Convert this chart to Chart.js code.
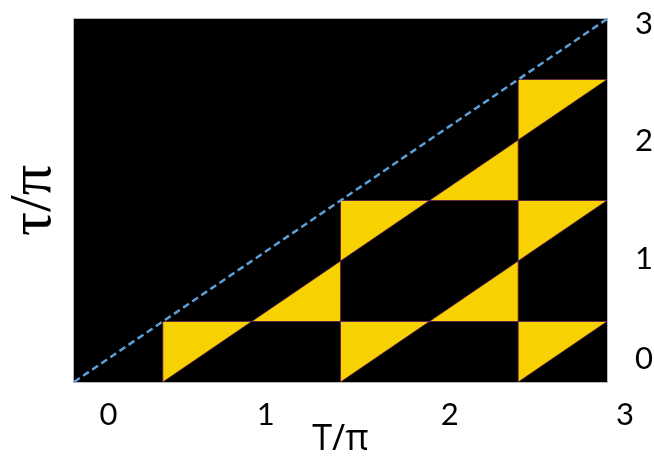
<!DOCTYPE html>
<html><head><meta charset="utf-8">
<script src="https://cdn.jsdelivr.net/npm/chart.js@4"></script>
<style>html,body{margin:0;padding:0;background:#fff;} #wrap{width:654px;height:460px;position:relative;}</style>
</head><body><div id="wrap"><canvas id="c"></canvas></div>
<script>
// Tick labels and where they sit in the reference (data units of T/π and τ/π)
const xTickValues = [0.194, 1.079, 2.115, 3.101];
const xTickLabels = ['0', '1', '2', '3'];
const yTickValues = [0.19, 1.015, 1.99, 2.96];
const yTickLabels = ['0', '1', '2', '3'];
// dashed diagonal τ = T
const diagT = [0, 3];
const diagTau = [0, 3];
// yellow triangles: vertices (T/π, τ/π)
const triT = [
  [0.5, 0.5, 1.0], [1.5, 1.5, 2.0], [2.5, 2.5, 3.0],
  [1.5, 1.5, 2.0], [2.5, 2.5, 3.0], [2.5, 2.5, 3.0],
  [1.0, 1.5, 1.5], [2.0, 2.5, 2.5], [2.0, 2.5, 2.5]
];
const triTau = [
  [0.0, 0.5, 0.5], [0.0, 0.5, 0.5], [0.0, 0.5, 0.5],
  [1.0, 1.5, 1.5], [1.0, 1.5, 1.5], [2.0, 2.5, 2.5],
  [0.5, 0.5, 1.0], [0.5, 0.5, 1.0], [1.5, 1.5, 2.0]
];

const datasets = [{
  data: diagT.map((t, i) => ({x: t, y: diagTau[i]})),
  showLine: true, fill: false,
  borderColor: '#5b9fd8', borderWidth: 2.5, borderDash: [7, 4],
  pointRadius: 0, clip: 4
}];
triT.forEach((ts, k) => {
  const pts = ts.map((t, i) => ({x: t, y: triTau[k][i]}));
  pts.push(pts[0]);
  datasets.push({
    data: pts, showLine: true, fill: 'shape',
    backgroundColor: '#f7d100', borderColor: 'rgba(90,25,80,0.8)', borderWidth: 1,
    pointRadius: 0, tension: 0
  });
});

const bgPlugin = {
  id: 'bg',
  beforeDraw(chart) {
    const {ctx, chartArea: a} = chart;
    ctx.save();
    ctx.fillStyle = '#fff';
    ctx.fillRect(0, 0, chart.width, chart.height);
    ctx.fillStyle = '#000';
    ctx.fillRect(a.left, a.top, a.right - a.left, a.bottom - a.top);
    ctx.strokeStyle = '#b8b8b8';
    ctx.lineWidth = 1;
    ctx.strokeRect(a.left - 0.5, a.top - 0.5, a.right - a.left + 1, a.bottom - a.top + 1);
    ctx.restore();
  }
};

const noPad = s => { s.paddingTop = 0; s.paddingBottom = 0; s.paddingLeft = 0; s.paddingRight = 0; };
const tickFont = {family: 'Lato, "Open Sans", sans-serif', size: 31};

new Chart(document.getElementById('c'), {
  type: 'scatter',
  data: {datasets},
  plugins: [bgPlugin],
  options: {
    responsive: true, maintainAspectRatio: false, animation: false,
    devicePixelRatio: 1,
    layout: {padding: {top: 19, left: 0, right: 0, bottom: 0}},
    plugins: {legend: {display: false}, tooltip: {enabled: false}},
    scales: {
      x: {
        type: 'linear', position: 'bottom', min: 0, max: 3,
        grid: {display: false, drawTicks: false}, border: {display: false},
        afterBuildTicks: s => { s.ticks = xTickValues.map(v => ({value: v})); },
        afterFit: s => { s.height = 78; noPad(s); },
        ticks: {
          font: tickFont, color: '#000', padding: 14, autoSkip: false, maxRotation: 0,
          callback: (v, i) => xTickLabels[i]
        },
        title: {
          display: true, text: 'T/π', color: '#000',
          font: {family: '"Open Sans", sans-serif', size: 36, lineHeight: 1},
          padding: {top: 0, bottom: 2}
        }
      },
      y: {
        type: 'linear', position: 'right', min: 0, max: 3,
        grid: {display: false, drawTicks: false}, border: {display: false},
        afterBuildTicks: s => { s.ticks = yTickValues.map(v => ({value: v})); },
        afterFit: s => { s.width = 47; noPad(s); },
        ticks: {
          font: tickFont, color: '#000', padding: 28, autoSkip: false,
          callback: (v, i) => yTickLabels[i]
        }
      },
      yL: {
        type: 'linear', position: 'left', min: 0, max: 3,
        grid: {display: false, drawTicks: false}, border: {display: false},
        ticks: {display: false},
        afterFit: s => { s.width = 74; noPad(s); },
        title: {
          display: true, text: 'τ/π', color: '#000',
          font: {family: '"Liberation Serif", "DejaVu Serif", serif', size: 60, lineHeight: 1},
          padding: {top: 4, bottom: 0}
        }
      }
    }
  }
});
</script>
</body></html>
